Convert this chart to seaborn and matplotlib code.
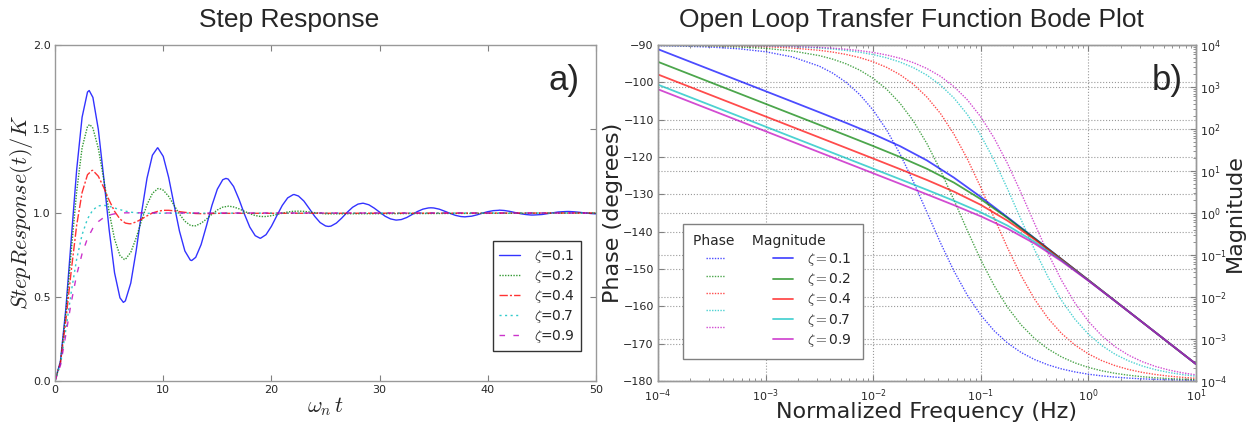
import matplotlib
matplotlib.use("Agg")
import matplotlib.pyplot as plt
import seaborn as sns
from matplotlib.legend_handler import HandlerLine2D
from matplotlib.ticker import LogLocator, NullFormatter

# ---- data ----
zeta_labels = ['0.1', '0.2', '0.4', '0.7', '0.9']

step_t = [0.0, 0.5, 1.0, 1.5, 2.0, 2.5, 3.0, 3.5, 4.0, 4.5,
          5.0, 5.5, 6.0, 6.5, 7.0, 7.5, 8.0, 8.5, 9.0, 9.5,
          10.0, 10.5, 11.0, 11.5, 12.0, 12.5, 13.0, 13.5, 14.0, 14.5,
          15.0, 15.5, 16.0, 16.5, 17.0, 17.5, 18.0, 18.5, 19.0, 19.5,
          20.0, 20.5, 21.0, 21.5, 22.0, 22.5, 23.0, 23.5, 24.0, 24.5,
          25.0, 25.5, 26.0, 26.5, 27.0, 27.5, 28.0, 28.5, 29.0, 29.5,
          30.0, 30.5, 31.0, 31.5, 32.0, 32.5, 33.0, 33.5, 34.0, 34.5,
          35.0, 35.5, 36.0, 36.5, 37.0, 37.5, 38.0, 38.5, 39.0, 39.5,
          40.0, 40.5, 41.0, 41.5, 42.0, 42.5, 43.0, 43.5, 44.0, 44.5,
          45.0, 45.5, 46.0, 46.5, 47.0, 47.5, 48.0, 48.5, 49.0, 49.5,
          50.0]

resp_z01 = [0.000, 0.118, 0.431, 0.846, 1.258, 1.570, 1.720, 1.688, 1.498, 1.211,
            0.901, 0.644, 0.495, 0.477, 0.583, 0.776, 1.003, 1.207, 1.344, 1.388,
            1.337, 1.212, 1.050, 0.892, 0.774, 0.720, 0.736, 0.812, 0.925, 1.045,
            1.142, 1.198, 1.202, 1.158, 1.082, 0.994, 0.916, 0.865, 0.850, 0.871,
            0.921, 0.984, 1.045, 1.090, 1.109, 1.101, 1.071, 1.026, 0.980, 0.943,
            0.923, 0.922, 0.940, 0.970, 1.004, 1.034, 1.053, 1.058, 1.049, 1.029,
            1.005, 0.981, 0.965, 0.958, 0.961, 0.973, 0.991, 1.009, 1.023, 1.030,
            1.030, 1.023, 1.011, 0.998, 0.986, 0.979, 0.978, 0.981, 0.989, 0.999,
            1.008, 1.014, 1.016, 1.015, 1.010, 1.003, 0.996, 0.991, 0.988, 0.989,
            0.991, 0.996, 1.001, 1.006, 1.008, 1.009, 1.007, 1.004, 1.000, 0.997,
            0.995]
# shorter series: last value sits at t = 50
resp_z02 = [0.000, 0.115, 0.405, 0.775, 1.128, 1.388, 1.515, 1.505, 1.385, 1.201,
            1.006, 0.845, 0.747, 0.724, 0.766, 0.852, 0.956, 1.050, 1.117, 1.145,
            1.136, 1.099, 1.046, 0.993, 0.951, 0.927, 0.924, 0.939, 0.964, 0.993,
            1.018, 1.035, 1.040, 1.036, 1.025, 1.010, 0.996, 0.985, 0.979, 0.979,
            0.984, 0.991, 0.999, 1.006, 1.010, 1.011, 1.010, 1.006, 1.002, 0.998,
            0.995, 1.000]
resp_z04 = [0.000, 0.108, 0.360, 0.658, 0.927, 1.122, 1.228, 1.253, 1.219, 1.152,
            1.076, 1.010, 0.964, 0.940, 0.936, 0.947, 0.964, 0.983, 1.000, 1.010,
            1.016, 1.016, 1.013, 1.008, 1.004, 1.000, 0.997, 0.996, 0.996, 0.997,
            0.998, 1.000]
resp_z07 = [0.000, 0.098, 0.306, 0.531, 0.726, 0.871, 0.965, 1.019, 1.042, 1.046,
            1.040, 1.030, 1.020, 1.011, 1.005, 1.001, 0.999, 0.998, 0.998, 0.998,
            0.999, 1.000]
resp_z09 = [0.000, 0.093, 0.277, 0.469, 0.632, 0.758, 0.849, 0.910, 0.949, 0.973,
            0.988, 0.995, 0.999, 1.001, 1.001, 1.001, 1.001, 1.001, 1.001, 1.000,
            1.000, 1.000]

# peaks / troughs of the oscillating responses
peak_t_z01 = [3.157, 6.315, 9.472, 12.63, 15.79, 18.94, 22.10, 25.26, 28.42, 31.57,
              34.73, 37.89, 41.05, 44.20, 47.36]
peak_y_z01 = [1.729, 0.468, 1.388, 0.717, 1.206, 0.850, 1.110, 0.920, 1.058, 0.958,
              1.031, 0.977, 1.017, 0.988, 1.009]
peak_t_z02 = [3.206, 6.413, 9.619, 12.83, 16.03, 19.24, 22.45]
peak_y_z02 = [1.527, 0.723, 1.146, 0.923, 1.041, 0.979, 1.011]
peak_t_z04 = [3.428, 6.856, 10.28]
peak_y_z04 = [1.254, 0.936, 1.016]
peak_t_z07 = [4.399]
peak_y_z07 = [1.046]
peak_t_z09 = [7.207]
peak_y_z09 = [1.002]

bode_freq = [1.0e-4, 1.778e-4, 3.162e-4, 5.623e-4, 1.0e-3, 1.778e-3, 3.162e-3,
             5.623e-3, 1.0e-2, 1.778e-2, 3.162e-2, 5.623e-2, 0.1, 0.1778, 0.3162,
             0.5623, 1.0, 1.778, 3.162, 5.623, 10.0]
mid_freq = [4.217e-3, 7.499e-3, 1.3335e-2, 2.3714e-2, 4.217e-2, 7.499e-2, 0.13335,
            0.23714, 0.4217, 0.7499, 1.3335, 2.3714, 4.217, 7.499]

phase_z01 = [-90.18, -90.32, -90.57, -91.01, -91.80, -93.20, -95.67, -100.02, -107.44, -119.19,
             -134.81, -150.49, -162.34, -169.85, -174.25, -176.76, -178.18, -178.97, -179.42,
             -179.68, -179.82]
phase_z02 = [-90.09, -90.16, -90.28, -90.51, -90.90, -91.60, -92.84, -95.05, -98.93, -105.61,
             -116.42, -131.45, -147.52, -160.30, -168.62, -173.54, -176.36, -177.95, -178.85,
             -179.35, -179.64]
phase_z04 = [-90.05, -90.08, -90.14, -90.25, -90.45, -90.80, -91.42, -92.53, -94.49, -97.95,
             -103.95, -113.83, -128.15, -144.40, -158.07, -167.24, -172.74, -175.90, -177.69,
             -178.70, -179.27]
phase_z07 = [-90.03, -90.05, -90.08, -90.15, -90.26, -90.46, -90.81, -91.45, -92.57, -94.56,
             -98.08, -104.16, -114.17, -128.60, -144.83, -158.38, -167.44, -172.86, -175.97,
             -177.73, -178.72]
phase_z09 = [-90.02, -90.04, -90.06, -90.11, -90.20, -90.36, -90.63, -91.13, -92.00, -93.55,
             -96.30, -101.11, -109.24, -121.83, -137.83, -153.00, -164.01, -170.85, -174.82,
             -177.08, -178.36]

phase_mid_z01 = [-97.55, -103.26, -112.73, -126.69, -142.95, -157.00, -166.57, -172.36,
                 -175.68, -177.57, -178.63, -179.23, -179.57, -179.76]
phase_mid_z02 = [-93.79, -96.72, -101.83, -110.43, -123.52, -139.67, -154.48, -164.97,
                 -171.42, -175.15, -177.27, -178.46, -179.14, -179.51]
phase_mid_z04 = [-91.90, -93.37, -95.98, -100.55, -108.32, -120.50, -136.32, -151.77,
                 -163.20, -170.36, -174.55, -176.93, -178.27, -179.03]
phase_mid_z07 = [-91.08, -91.93, -93.43, -96.08, -100.72, -108.60, -120.90, -136.78,
                 -152.15, -163.45, -170.51, -174.63, -176.98, -178.30]
phase_mid_z09 = [-90.84, -91.50, -92.67, -94.73, -98.37, -104.67, -114.96, -129.62,
                 -145.81, -159.09, -167.88, -173.11, -176.11, -177.81]

mag_z01 = [7958, 4475, 2516, 1415, 795.4, 446.8, 250.4, 139.4, 75.92, 39.07, 17.85, 6.971,
           2.414, 0.7885, 0.2520, 0.07998, 0.02532, 0.008009, 0.002533, 0.000801, 0.0002533]
mag_z02 = [3979, 2238, 1258, 707.5, 397.8, 223.7, 125.7, 70.48, 39.31, 21.55, 11.27, 5.303,
           2.137, 0.7542, 0.2483, 0.07960, 0.02528, 0.008004, 0.002532, 0.000801, 0.0002533]
mag_z04 = [1989, 1119, 629.1, 353.8, 198.9, 111.9, 62.89, 35.34, 19.83, 11.08, 6.106, 3.236,
           1.565, 0.6513, 0.2350, 0.07813, 0.02513, 0.007990, 0.002529, 0.000801, 0.0002533]
mag_z07 = [1137, 639.3, 359.5, 202.2, 113.7, 63.93, 35.95, 20.21, 11.36, 6.373, 3.559, 1.960,
           1.037, 0.4997, 0.2071, 0.07447, 0.02472, 0.007948, 0.002527, 0.000800, 0.0002532]
mag_z09 = [884.2, 497.2, 279.6, 157.2, 88.42, 49.72, 27.96, 15.72, 8.837, 4.963, 2.779, 1.543,
           0.8348, 0.4225, 0.1877, 0.07138, 0.02435, 0.007908, 0.002523, 0.000800, 0.0002532]

step_all = [resp_z01, resp_z02, resp_z04, resp_z07, resp_z09]
peak_t_all = [peak_t_z01, peak_t_z02, peak_t_z04, peak_t_z07, peak_t_z09]
peak_y_all = [peak_y_z01, peak_y_z02, peak_y_z04, peak_y_z07, peak_y_z09]
phase_all = [phase_z01, phase_z02, phase_z04, phase_z07, phase_z09]
phase_mid_all = [phase_mid_z01, phase_mid_z02, phase_mid_z04, phase_mid_z07, phase_mid_z09]
mag_all = [mag_z01, mag_z02, mag_z04, mag_z07, mag_z09]

# ---- style ----
sns.set_style("ticks")
plt.rcParams['font.family'] = ['DejaVu Sans']
plt.rcParams['mathtext.fontset'] = 'cm'
plt.rcParams['axes.edgecolor'] = '0.6'
plt.rcParams['axes.linewidth'] = 1.0

colors = [(0, 0, 1), (0, 0.5, 0), (1, 0, 0), (0, 0.75, 0.75), (0.75, 0, 0.75)]
step_styles = ['-', (0, (1, 1)), (0, (6, 1.5, 1.5, 1.5)), (0, (1.5, 2.5)), (0, (4, 6))]

fig = plt.figure(figsize=(12.48, 4.23), dpi=100)
ax1 = fig.add_axes([0.0441, 0.0993, 0.4335, 0.7943])
ax2 = fig.add_axes([0.5272, 0.0993, 0.4311, 0.7943])
ax3 = ax2.twinx()

# Step response (seaborn sorts the merged samples by t)
for i, y in enumerate(step_all):
    x = step_t[:len(y) - 1] + [step_t[-1]] + peak_t_all[i]
    sns.lineplot(x=x, y=y + peak_y_all[i], ax=ax1, color=colors[i],
                 linestyle=step_styles[i], lw=1.0, alpha=0.8, legend=False)

ax1.set_xlim(0, 50)
ax1.set_ylim(0, 2)
ax1.set_xticks([0, 10, 20, 30, 40, 50])
ax1.set_yticks([0.0, 0.5, 1.0, 1.5, 2.0])
ax1.set_xlabel(r'$\omega_n\,t$', fontsize=16, labelpad=0)
ax1.set_ylabel(r'$StepResponse(t)/K$', fontsize=16, labelpad=-1.5)
ax1.tick_params(direction='in', top=True, right=True, labelsize=8, length=4,
                pad=3, labelcolor='0.15', color='0.5')
ax1.set_title('Step Response', fontsize=19, family='Liberation Sans', x=0.4325, pad=13)
ax1.text(0.97, 0.866, 'a)', transform=ax1.transAxes, ha='right', va='baseline',
         fontsize=25, family='Liberation Sans')

leg1 = ax1.legend(ax1.get_lines(), [r'$\zeta$=' + z for z in zeta_labels],
                  loc='lower right', bbox_to_anchor=(0.972, 0.089), borderaxespad=0,
                  fontsize=10, fancybox=False, framealpha=1, edgecolor='0.2',
                  handlelength=1.5, handletextpad=1.0, borderpad=0.45, labelspacing=0.22)
leg1.get_frame().set_linewidth(1.0)

# Bode plot
for i in range(5):
    sns.lineplot(x=bode_freq + mid_freq, y=phase_all[i] + phase_mid_all[i], ax=ax2,
                 color=colors[i], linestyle=(0, (1, 1)), lw=1.0, alpha=0.7, legend=False)
    sns.lineplot(x=bode_freq, y=mag_all[i], ax=ax3, color=colors[i],
                 linestyle='-', lw=1.3, alpha=0.7, legend=False)

ax2.set_xscale('log')
ax3.set_yscale('log')
ax2.set_xlim(1e-4, 10)
ax2.set_ylim(-180, -90)
ax3.set_ylim(1e-4, 1e4)
ax2.set_xticks([1e-4, 1e-3, 1e-2, 1e-1, 1e0, 1e1])
ax2.xaxis.set_minor_locator(LogLocator(base=10, subs=range(2, 10), numticks=20))
ax2.xaxis.set_minor_formatter(NullFormatter())
ax2.set_yticks(list(range(-180, -89, 10)))
ax3.set_yticks([1e-4, 1e-3, 1e-2, 1e-1, 1e0, 1e1, 1e2, 1e3, 1e4])
ax3.yaxis.set_minor_locator(LogLocator(base=10, subs=range(2, 10), numticks=20))
ax3.yaxis.set_minor_formatter(NullFormatter())

ax2.grid(True, which='major', linestyle=':', color='0.6', lw=0.8)
ax3.grid(True, which='major', axis='y', linestyle=':', color='0.6', lw=0.8)

ax2.tick_params(which='both', direction='in', top=True, right=False, labelsize=8,
                pad=3, labelcolor='0.15', color='0.5')
ax2.tick_params(axis='x', which='both', pad=4.5)
ax2.tick_params(which='major', length=4)
ax2.tick_params(which='minor', length=2)
ax3.tick_params(which='both', direction='in', right=True, labelsize=8, pad=3,
                labelcolor='0.15', color='0.5')
ax3.tick_params(which='major', length=4)
ax3.tick_params(which='minor', length=2)

ax2.set_xlabel('Normalized Frequency (Hz)', fontsize=16, labelpad=-1)
ax2.set_ylabel('Phase (degrees)', fontsize=16, labelpad=0)
ax3.set_ylabel('Magnitude', fontsize=16, labelpad=-2)
ax2.set_title('Open Loop Transfer Function Bode Plot', fontsize=19,
              family='Liberation Sans', x=0.472, pad=13)
ax3.text(0.976, 0.866, 'b)', transform=ax3.transAxes, ha='right', va='baseline',
         fontsize=25, family='Liberation Sans')

phase_lines = list(ax2.get_lines())
mag_lines = list(ax3.get_lines())
hmap = {h: HandlerLine2D(xpad=0.9) for h in phase_lines}
hmap.update({h: HandlerLine2D(xpad=0.8) for h in mag_lines})
leg2 = ax3.legend(phase_lines + mag_lines,
                  [''] * 5 + [r'$\zeta=$' + z for z in zeta_labels],
                  ncol=2, title='Phase    Magnitude', alignment='left',
                  title_fontsize=10, fontsize=10, loc='lower left',
                  bbox_to_anchor=(0.0465, 0.0655), borderaxespad=0,
                  handlelength=2.25, handletextpad=1.05, columnspacing=1.6,
                  borderpad=0.75, labelspacing=0.22, fancybox=False, framealpha=1,
                  edgecolor='0.5', handler_map=hmap)
leg2.get_frame().set_linewidth(1.0)

plt.savefig('out.png', dpi=100)
plt.close()
